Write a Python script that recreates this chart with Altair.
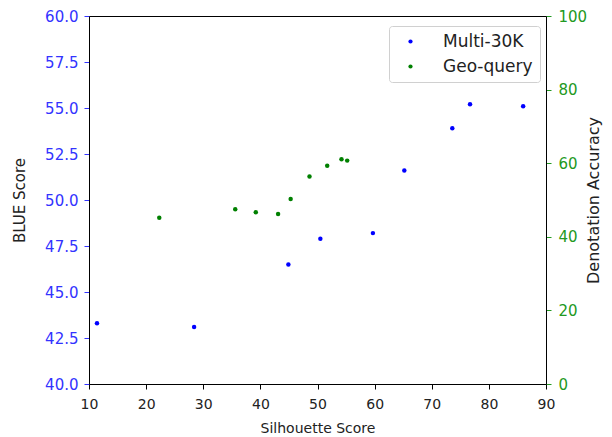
import altair as alt
import pandas as pd

# Multi-30K (left axis: BLUE Score)
multi_x = [11.4, 28.4, 44.9, 50.5, 59.7, 65.2, 73.6, 76.7, 86.0]
multi_y = [43.3, 43.1, 46.5, 47.9, 48.2, 51.6, 53.9, 55.2, 55.1]
# Geo-query (right axis: Denotation Accuracy)
geo_x = [22.3, 35.6, 39.2, 43.1, 45.3, 48.6, 51.7, 54.2, 55.2]
geo_y = [45.2, 47.5, 46.7, 46.2, 50.3, 56.4, 59.3, 61.1, 60.7]

series_names = ["Multi-30K", "Geo-query"]
series_colors = ["#0000ff", "#008000"]
x_ticks = [10, 20, 30, 40, 50, 60, 70, 80, 90]
left_ticks = [40.0, 42.5, 45.0, 47.5, 50.0, 52.5, 55.0, 57.5, 60.0]
right_ticks = [0, 20, 40, 60, 80, 100]

df_m = pd.DataFrame({"sil": multi_x, "val": multi_y, "series": series_names[0]})
df_g = pd.DataFrame({"sil": geo_x, "val": geo_y, "series": series_names[1]})

FONT = "DejaVu Sans"

color = alt.Color(
    "series:N",
    scale=alt.Scale(domain=series_names, range=series_colors),
    legend=alt.Legend(
        title=None, orient="none", legendX=300, legendY=10,
        labelFontSize=17, labelFont=FONT, labelColor="#222",
        symbolType="circle", symbolSize=18, symbolStrokeWidth=0,
        labelOffset=24, symbolOffset=6, padding=7, rowPadding=7,
        strokeColor="#d0d0d0", fillColor="white", cornerRadius=3,
    ),
)

x = alt.X(
    "sil:Q",
    scale=alt.Scale(domain=[10, 90], nice=False, zero=False),
    axis=alt.Axis(values=x_ticks, title="Silhouette Score", grid=False,
                  tickSize=5, labelPadding=8, titlePadding=10,
                  labelFontSize=14, titleFontSize=14, labelFlush=False),
)

left = alt.Chart(df_m).mark_circle(size=20, opacity=1).encode(
    x=x,
    y=alt.Y("val:Q", scale=alt.Scale(domain=[40, 60], nice=False, zero=False),
            axis=alt.Axis(values=left_ticks, format=".1f", title="BLUE Score",
                          orient="left", grid=False, labelColor="#3333ff",
                          tickColor="#3333ff", tickSize=5, labelPadding=6,
                          labelFontSize=15, titleFontSize=15,
                          titlePadding=17, labelFlush=False)),
    color=color,
)

right = alt.Chart(df_g).mark_circle(size=20, opacity=1).encode(
    x=x,
    y=alt.Y("val:Q", scale=alt.Scale(domain=[0, 100], nice=False, zero=False),
            axis=alt.Axis(values=right_ticks, title="Denotation Accuracy",
                          orient="right", grid=False, labelColor="#229922",
                          tickColor="#229922", tickSize=5, labelPadding=7,
                          labelFontSize=15, titleFontSize=16,
                          titlePadding=15, titleAngle=270, labelFlush=False)),
    color=color,
)

chart = alt.layer(left, right).resolve_scale(y="independent").properties(
    width=457, height=368,
    autosize=alt.AutoSizeParams(type="none"),
    padding={"left": 81, "top": 8, "right": 58, "bottom": 52},
).configure_view(stroke="black", strokeWidth=1).configure_axis(
    labelFont=FONT, titleFont=FONT,
    titleFontWeight="normal", labelColor="#222", titleColor="#222",
    domainColor="black", tickColor="black",
)

chart.save("out.html", embed_options={"renderer": "svg", "actions": False})
